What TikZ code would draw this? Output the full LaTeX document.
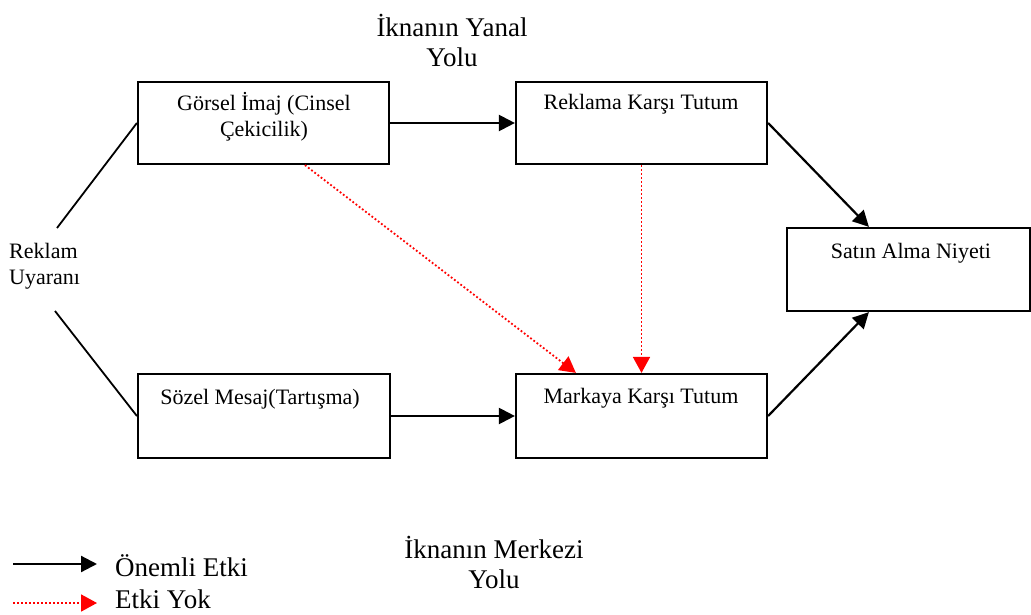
\documentclass[tikz,border=0pt]{standalone}
\usepackage{fontspec}
\setmainfont{Liberation Serif}
\usetikzlibrary{arrows.meta,calc}
\tikzset{
  box/.style={draw=black, line width=2.2pt, rectangle, inner sep=0pt},
  boxtext/.style={font=\fontsize{22}{26}\selectfont, align=center, inner sep=0pt},
  bigtext/.style={font=\fontsize{27}{30}\selectfont, align=center, inner sep=0pt},
  strong/.style={draw=black, line width=2.2pt, -{Triangle[length=16pt,width=16pt]}},
  noeffect/.style={draw=red, line width=1.8pt, dash pattern=on 1.8pt off 2.2pt, -{Triangle[length=16pt,width=17pt]}},
  plain/.style={draw=black, line width=1.8pt}
}
\begin{document}
\begin{tikzpicture}[x=1pt,y=-1pt]
\useasboundingbox (0,0) rectangle (1031,615);
% boxes
\node[box, minimum width=251pt, minimum height=82pt] (b1) at (263.5,123) {};
\node[box, minimum width=251pt, minimum height=82pt] (b2) at (641.5,123) {};
\node[box, minimum width=252pt, minimum height=84pt] (b3) at (264,416) {};
\node[box, minimum width=251pt, minimum height=84pt] (b4) at (641.5,416) {};
\node[box, minimum width=243pt, minimum height=83pt] (b5) at (908.5,269.5) {};
% box texts
\node[boxtext] (t1) at (264,117) {Görsel İmaj (Cinsel\\Çekicilik)};
\node[boxtext] (t2) at (641,104) {Reklama Karşı Tutum};
\node[boxtext] (t3) at (260,399) {Sözel Mesaj(Tartışma)};
\node[boxtext] (t4) at (641,398) {Markaya Karşı Tutum};
\node[boxtext] (t5) at (911,253) {Satın Alma Niyeti};
% Reklam Uyarani
\node[boxtext, align=left, anchor=west] (ru) at (9,266) {Reklam\\Uyaranı};
\coordinate (ruTop) at (57,228);
\coordinate (ruBot) at (55,311);
\draw[plain] (ruTop) -- (b1.west);
\draw[plain] (ruBot) -- (b3.west);
% titles
\node[bigtext] (yanal) at (452,40) {İknanın Yanal\\Yolu};
\node[bigtext] (merkez) at (494,562) {İknanın Merkezi\\Yolu};
% strong arrows
\draw[strong] (b1.east) -- (b2.west);
\draw[strong] (b3.east) -- (b4.west);
\draw[strong] (b2.east) -- ($(b5.north west)+(83,0)$);
\draw[strong] (b4.east) -- ($(b5.south west)+(83,0)$);
% no effect arrows
\draw[noeffect] ($(b1.south west)+(168,0)$) -- ($(b4.north west)+(61,0)$);
\draw[noeffect] (b2.south) -- (b4.north);
% legend
\coordinate (l1a) at (13,564);
\coordinate (l1b) at (97,564);
\coordinate (l2a) at (13,603);
\coordinate (l2b) at (97,603);
\draw[strong] (l1a) -- (l1b);
\draw[noeffect] (l2a) -- (l2b);
\node[bigtext, anchor=west] (leg1) at (115,566) {Önemli Etki};
\node[bigtext, anchor=west] (leg2) at (115,599) {Etki Yok};
\end{tikzpicture}
\end{document}
